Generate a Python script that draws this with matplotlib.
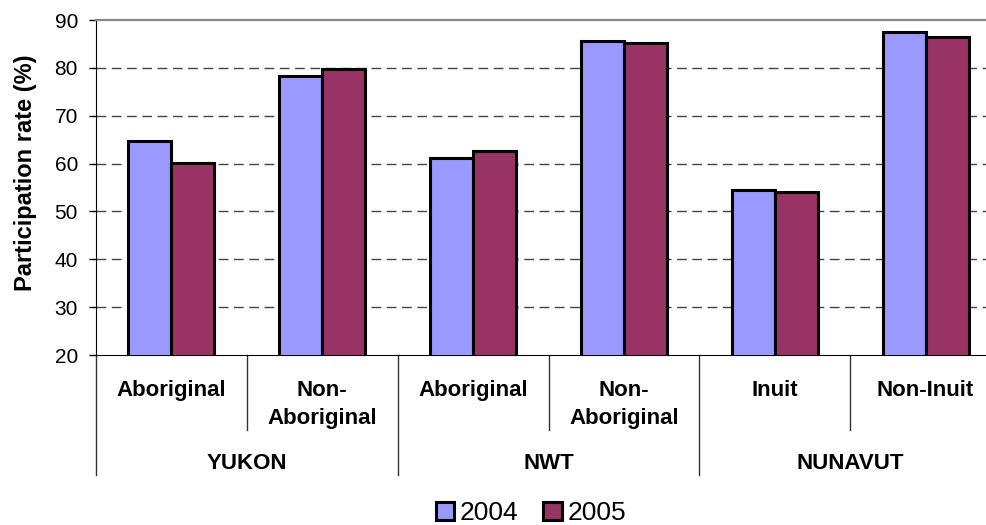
import matplotlib
matplotlib.use("Agg")
import matplotlib.pyplot as plt
import numpy as np

# === 1. Data ===
groups = ["YUKON", "NWT", "NUNAVUT"]
categories = ["Aboriginal", "Non-\nAboriginal", "Aboriginal", "Non-\nAboriginal", "Inuit", "Non-Inuit"]
years = ["2004", "2005"]
rate_2004 = [64.8, 78.4, 61.2, 85.6, 54.5, 87.4]
rate_2005 = [60.2, 79.8, 62.7, 85.2, 54.0, 86.5]
y_ticks = [20, 30, 40, 50, 60, 70, 80, 90]

colors = ["#9999FF", "#993366"]

plt.rcParams["font.family"] = ["Liberation Sans", "DejaVu Sans"]

# === 2. Figure and axes (plot area runs past the right edge, like the original) ===
fig = plt.figure(figsize=(9.87, 5.25), dpi=100)
ax = fig.add_axes([0.0973, 0.3238, 0.9169, 0.6381])

x = np.arange(len(categories)) + 0.5
bar_w = 0.285

bars_2004 = ax.bar(x - bar_w / 2, rate_2004, width=bar_w, color=colors[0],
                   edgecolor="black", linewidth=2.2, zorder=3, label=years[0])
bars_2005 = ax.bar(x + bar_w / 2, rate_2005, width=bar_w, color=colors[1],
                   edgecolor="black", linewidth=2.2, zorder=3, label=years[1])

ax.set_xlim(0, len(categories))
ax.set_ylim(20, 90)
ax.set_yticks(y_ticks)
ax.tick_params(axis="y", direction="out", length=5, width=1, pad=8, labelsize=15)
ax.set_xticks([])

# dashed gridlines
for yv in y_ticks[1:-1]:
    ax.axhline(yv, color="#444444", linewidth=1.0, linestyle=(0, (7, 4)), zorder=1)

ax.spines["right"].set_visible(False)
ax.spines["top"].set_color("#888888")
ax.spines["top"].set_linewidth(1.6)
ax.spines["left"].set_color("black")
ax.spines["bottom"].set_color("black")

ax.set_ylabel("Participation rate (%)", fontsize=17, fontweight="bold")
ax.yaxis.set_label_coords(-0.0652, 0.543)

# === 3. Two-level category axis ===
trans = ax.get_xaxis_transform()
sub_bottom = -0.224
grp_bottom = -0.358
for i in range(len(categories) + 1):
    y_end = grp_bottom if i % 2 == 0 else sub_bottom
    ax.plot([i, i], [0, y_end], color="#333333", linewidth=1, transform=trans, clip_on=False)

for xi, lab in zip(x, categories):
    ax.text(xi, -0.0746, lab, transform=trans, ha="center", va="top",
            fontsize=16, fontweight="bold", linespacing=1.43)

for gi, g in enumerate(groups):
    ax.text(2 * gi + 1, -0.339, g, transform=trans, ha="center", va="baseline",
            fontsize=16, fontweight="bold")

# === 4. Legend ===
fig.legend(handles=[bars_2004, bars_2005], labels=years, loc="center",
           bbox_to_anchor=(531 / 987, 1 - 513 / 525), ncol=2, frameon=False,
           fontsize=19, handlelength=0.70, handleheight=0.70,
           handletextpad=0.23, columnspacing=0.93, borderpad=0)

plt.savefig("out.png", dpi=100)
